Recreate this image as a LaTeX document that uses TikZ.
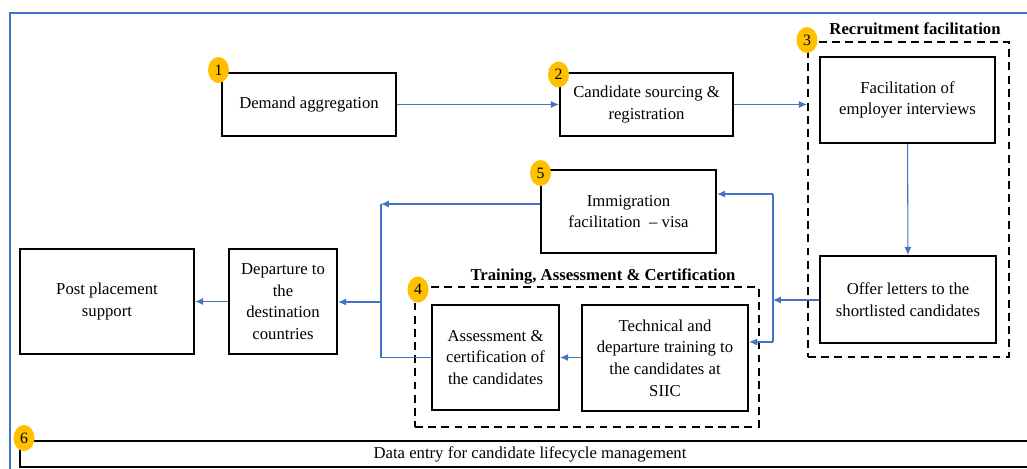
\documentclass[tikz,border=0pt]{standalone}
\usepackage{fontspec}
\setmainfont{Liberation Serif}
\usetikzlibrary{arrows.meta,shapes.geometric}
\definecolor{flowblue}{HTML}{4472C4}
\definecolor{badgeyellow}{HTML}{FFC000}
\begin{document}
\begin{tikzpicture}[x=0.02cm,y=-0.02cm,
    box/.style={rectangle,draw,line width=1.3pt,align=center,font=\fontsize{9.5}{12.3}\selectfont},
    grp/.style={rectangle,draw,line width=1.3pt,dash pattern=on 4.5pt off 3pt},
    grptitle/.style={font=\fontsize{9.5}{12}\selectfont\bfseries},
    badge/.style={ellipse,fill=badgeyellow,minimum width=0.42cm,minimum height=0.52cm,inner sep=0pt,font=\fontsize{9}{10}\selectfont},
    flow/.style={draw=flowblue,line width=0.6pt,-{Latex[length=4.5pt,width=4pt]}},
    wire/.style={draw=flowblue,line width=0.6pt}]
  \useasboundingbox (0,0) rectangle (1027,468);
  % frame
  \draw[flowblue,line width=1pt] (1030,13) -- (10,13) -- (10,470);

  % groups
  \node[grp,minimum width=4.02cm,minimum height=6.3cm] (rec) at (908.5,199.5) {};
  \node[grp,minimum width=6.88cm,minimum height=2.8cm] (trn) at (587,357) {};
  \node[grptitle] (rectitle) at (915,29) {Recruitment facilitation};
  \node[grptitle] (trntitle) at (603,276) {Training, Assessment \& Certification};

  % steps
  \node[box,minimum width=3.48cm,minimum height=1.26cm] (dem) at (309,104.5) {Demand aggregation};
  \node[box,minimum width=3.46cm,minimum height=1.26cm] (src) at (646.5,104.5) {Candidate sourcing \&\\registration};
  \node[box,minimum width=3.5cm,minimum height=1.72cm] (intv) at (907.5,100) {Facilitation of\\employer interviews};
  \node[box,minimum width=3.52cm,minimum height=1.74cm] (offer) at (908,299.5) {Offer letters to the\\shortlisted candidates};
  \node[box,minimum width=3.5cm,minimum height=1.66cm] (visa) at (628.5,211.5) {Immigration\\facilitation\ \ -- visa};
  \node[box,minimum width=3.32cm,minimum height=2.12cm] (tech) at (665,358) {Technical and\\departure training to\\the candidates at\\SIIC};
  \node[box,minimum width=2.54cm,minimum height=2.1cm] (assess) at (495.5,357.5) {Assessment \&\\certification of\\the candidates};
  \node[box,minimum width=2.16cm,minimum height=2.1cm] (depart) at (283,301.5) {Departure to\\the\\destination\\countries};
  \node[box,minimum width=3.48cm,minimum height=2.1cm] (post) at (107,301.5) {Post placement\\support};
  \node[box,minimum width=20.4cm,minimum height=0.52cm,inner sep=1pt] (data) at (530,454) {Data entry for candidate lifecycle management};

  % numbers
  \node[badge] (b1) at (218.5,70) {1};
  \node[badge] (b2) at (558.5,74.5) {2};
  \node[badge] (b3) at (807,40) {3};
  \node[badge] (b4) at (418,289.5) {4};
  \node[badge] (b5) at (540.5,173) {5};
  \node[badge] (b6) at (24,438) {6};

  % junctions
  \coordinate (jr) at (773,300);
  \coordinate (jrt) at (773,194);
  \coordinate (jrb) at (773,342);
  \coordinate (jl) at (381,302);
  \coordinate (jlt) at (381,204);
  \coordinate (jlb) at (381,357.5);

  % connectors
  \draw[flow] (dem) -- (src);
  \draw[flow] (src.east) -- (src.east -| rec.west);
  \draw[flow] (intv) -- (offer);
  \draw[flow] (offer.west |- jr) -- (jr);
  \draw[wire] (jrt) -- (jrb);
  \draw[flow] (jrt) -- (jrt -| visa.east);
  \draw[flow] (jrb) -- (jrb -| tech.east);
  \draw[flow] (tech.west |- assess) -- (assess.east);
  \draw[flow] (visa.west |- jlt) -- (jlt);
  \draw[wire] (assess.west) -- (jlb) -- (jlt);
  \draw[flow] (jl) -- (jl -| depart.east);
  \draw[flow] (depart) -- (post);
\end{tikzpicture}
\end{document}
